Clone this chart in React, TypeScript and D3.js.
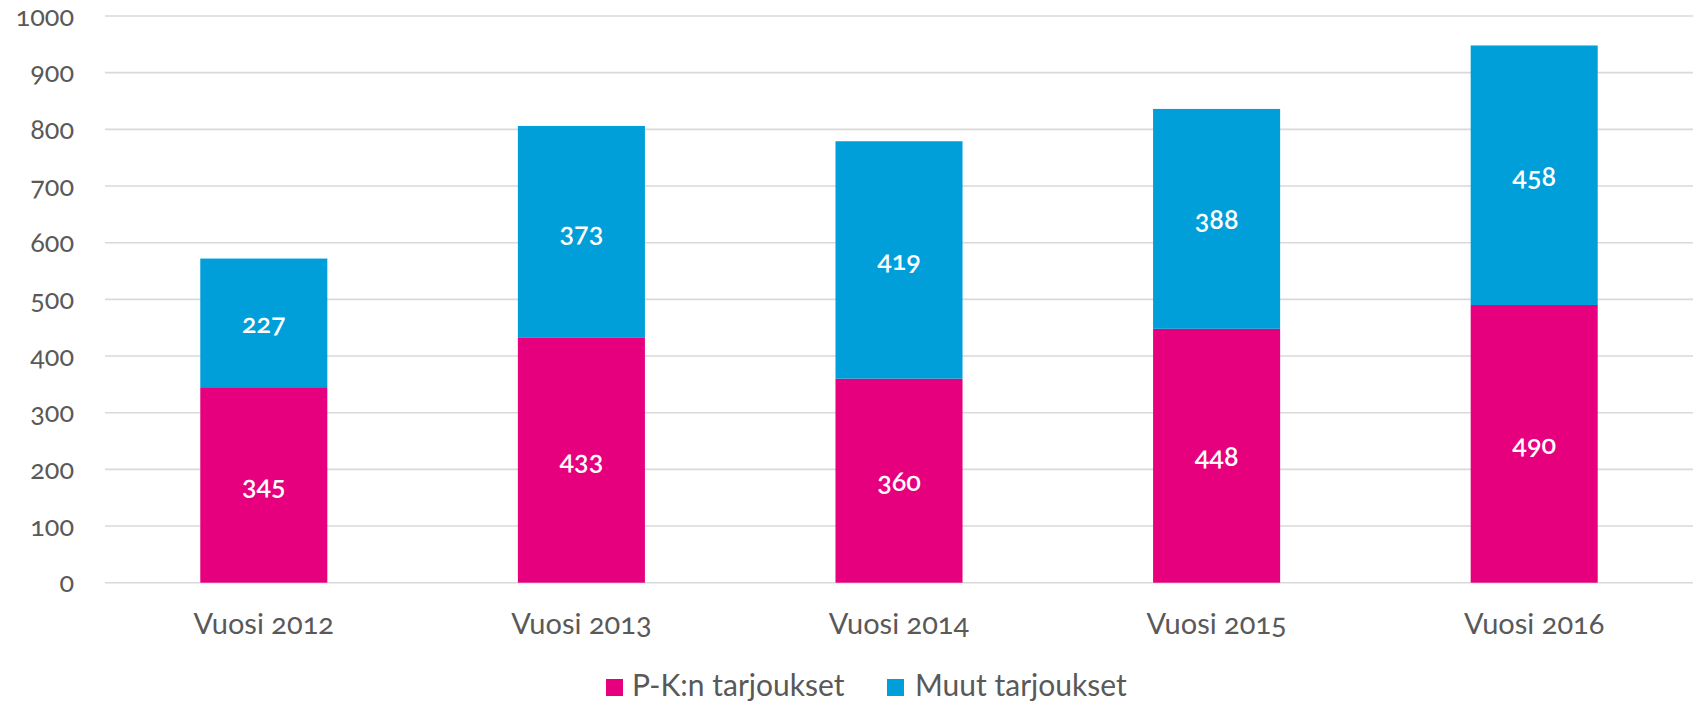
import React from "react";
import * as d3 from "d3";

const categories = ["Vuosi 2012", "Vuosi 2013", "Vuosi 2014", "Vuosi 2015", "Vuosi 2016"];
const pkValues = [345, 433, 360, 448, 490];
const muutValues = [227, 373, 419, 388, 458];
const seriesNames = ["P-K:n tarjoukset", "Muut tarjoukset"];
const yTicks = [0, 100, 200, 300, 400, 500, 600, 700, 800, 900, 1000];

const W = 1699;
const H = 704;
const PINK = "#E6007E";
const BLUE = "#009FDA";
const TEXT = "#595959";
const FONT = "Lato, 'Open Sans', sans-serif";

export default function App() {
  const x = d3.scaleBand<string>().domain(categories).range([105, 1693]).paddingInner(0.6).paddingOuter(0.3);
  const y = d3.scaleLinear().domain([0, 1000]).range([582.7, 16]);
  const rows = categories.map((c, i) => ({ c, pk: pkValues[i], muut: muutValues[i] }));
  const stack = d3.stack<any>().keys(["pk", "muut"])(rows);
  const colors = [PINK, BLUE];
  const bw = x.bandwidth();

  return (
    <svg width={W} height={H} style={{ position: "absolute", left: 0, top: 0, background: "#fff" }} fontFamily={FONT}>
      {yTicks.map((t) => (
        <g key={t}>
          <line x1={105} x2={1693} y1={y(t)} y2={y(t)} stroke="#D9D9D9" strokeWidth={1.6} />
          <text x={74} y={y(t)} dy="0.36em" textAnchor="end" fontSize={27} fill={TEXT} style={{ fontVariantNumeric: "oldstyle-nums" }}>
            {t}
          </text>
        </g>
      ))}
      {stack.map((layer, si) => (
        <g key={si}>
          {layer.map((d, i) => {
            const x0 = x(categories[i])!;
            const y0 = y(d[1]);
            const y1 = y(d[0]);
            return (
              <g key={i}>
                <rect x={x0} y={y0} width={bw} height={y1 - y0} fill={colors[si]} />
                <text
                  x={x0 + bw / 2}
                  y={(y0 + y1) / 2}
                  dy="0.38em"
                  textAnchor="middle"
                  fontSize={27}
                  fontWeight={600}
                  fill="#fff"
                  style={{ fontVariantNumeric: "oldstyle-nums" }}
                >
                  {d[1] - d[0]}
                </text>
              </g>
            );
          })}
        </g>
      ))}
      {categories.map((c) => (
        <text key={c} x={x(c)! + bw / 2} y={634} textAnchor="middle" fontSize={29} fill={TEXT} style={{ fontVariantNumeric: "oldstyle-nums" }}>
          {c}
        </text>
      ))}
      <g>
        <rect x={606} y={679} width={17} height={17} fill={PINK} />
        <text x={632} y={696} fontSize={30} fill={TEXT}>{seriesNames[0]}</text>
        <rect x={887} y={679} width={17} height={17} fill={BLUE} />
        <text x={915} y={696} fontSize={30} fill={TEXT}>{seriesNames[1]}</text>
      </g>
    </svg>
  );
}
